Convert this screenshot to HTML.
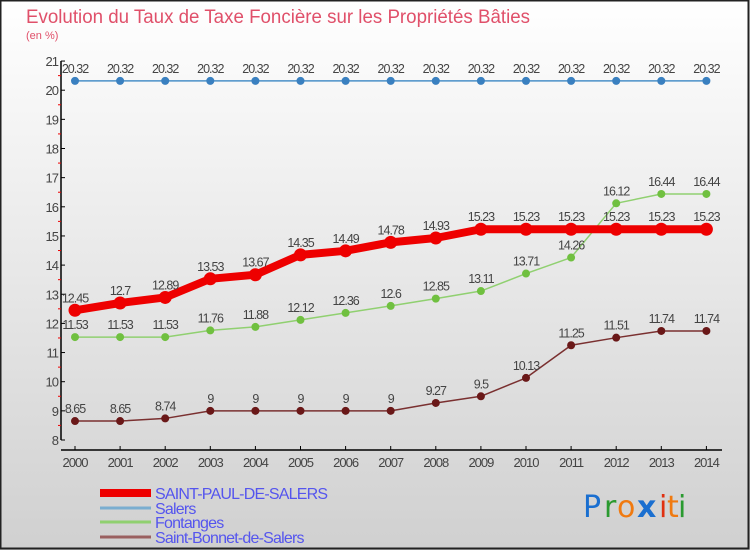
<!DOCTYPE html>
<html><head><meta charset="utf-8"><style>
body{margin:0;}
#wrap{position:relative;width:750px;height:550px;overflow:hidden;}
svg{display:block;font-family:"Liberation Sans","DejaVu Sans",sans-serif;}
</style></head><body>
<div id="wrap">
<svg id="c" width="750" height="550" xmlns="http://www.w3.org/2000/svg">
<defs><linearGradient id="bg" x1="0" y1="0" x2="0" y2="1"><stop offset="0" stop-color="#ffffff"/><stop offset="1" stop-color="#d0d0d0"/></linearGradient></defs>
<rect x="0" y="0" width="750" height="550" fill="url(#bg)"/>
<rect x="0.5" y="0.5" width="748" height="548" fill="none" stroke="#222" stroke-width="2"/>
<text x="26" y="23" font-size="19" fill="#e0506a" textLength="504" lengthAdjust="spacingAndGlyphs">Evolution du Taux de Taxe Foncière sur les Propriétés Bâties</text>
<text x="26" y="39" font-size="11" fill="#e0506a">(en %)</text>
<g id="axes"></g><g id="series"></g><g id="legend"></g>
<g font-size="30" font-family="'DejaVu Sans',sans-serif">
<text x="583" y="517" fill="#1a6fd0">P</text><text x="604" y="517" fill="#2a9a30">r</text><text x="617" y="517" fill="#f07a10">o</text><text x="637" y="517" fill="#1a6fd0" font-weight="bold">x</text><text x="659" y="517" fill="#e03010">i</text><text x="667" y="517" fill="#f07a10">t</text><text x="678" y="517" fill="#2a9a30">i</text>
</g>
</svg></div>
<script>
const years=[2000,2001,2002,2003,2004,2005,2006,2007,2008,2009,2010,2011,2012,2013,2014];
const yTicks=[8,9,10,11,12,13,14,15,16,17,18,19,20,21];
const stPaul=[12.45,12.7,12.89,13.53,13.67,14.35,14.49,14.78,14.93,15.23,15.23,15.23,15.23,15.23,15.23];
const salers=[20.32,20.32,20.32,20.32,20.32,20.32,20.32,20.32,20.32,20.32,20.32,20.32,20.32,20.32,20.32];
const fontanges=[11.53,11.53,11.53,11.76,11.88,12.12,12.36,12.6,12.85,13.11,13.71,14.26,16.12,16.44,16.44];
const bonnet=[8.65,8.65,8.74,9,9,9,9,9,9.27,9.5,10.13,11.25,11.51,11.74,11.74];
const names=["SAINT-PAUL-DE-SALERS","Salers","Fontanges","Saint-Bonnet-de-Salers"];
const NS="http://www.w3.org/2000/svg";
const X=i=>75+i*45.1;
const Y=v=>440-(v-8)*29.15;
function mk(tag,attrs,parent,txt){const e=document.createElementNS(NS,tag);for(const k in attrs)e.setAttribute(k,attrs[k]);if(txt!==undefined)e.textContent=txt;parent.appendChild(e);return e;}
const ax=document.getElementById('axes');
let e=mk('line',{x1:61,y1:Y(21),x2:61,y2:Y(8),stroke:'#000','stroke-width':1.5},ax);

e=mk('line',{x1:61,y1:450,x2:722,y2:450,stroke:'#000','stroke-width':1.5},ax);

yTicks.forEach((t,i)=>{
 mk('line',{x1:61,y1:Y(t),x2:65,y2:Y(t),stroke:'#000'},ax);
 if(i<yTicks.length-1)mk('line',{x1:58,y1:Y(t+0.5),x2:61,y2:Y(t+0.5),stroke:'#e00'},ax);
 e=mk('text',{x:58,y:Y(t)+5,'font-size':13,fill:'#444','text-anchor':'end','letter-spacing':'-1'},ax,String(t));
 
});
years.forEach((yr,i)=>{
 mk('line',{x1:X(i),y1:446,x2:X(i),y2:450,stroke:'#000'},ax);
 e=mk('text',{x:X(i),y:467,'font-size':13,fill:'#444','text-anchor':'middle','letter-spacing':'-1'},ax,String(yr));
 
});
const sg=document.getElementById('series');
function series(data,color,mcolor,w,r,name){
 const g=mk('g',{},sg);
 mk('polyline',{points:data.map((v,i)=>X(i)+','+Y(v)).join(' '),fill:'none',stroke:color,'stroke-width':w,'stroke-linejoin':'round'},g);
 data.forEach((v,i)=>{
  const c=mk('circle',{cx:X(i),cy:Y(v),r:r,fill:mcolor},g);
  
  const t=mk('text',{x:X(i),y:Y(v)-8,'font-size':12.5,fill:'#444','text-anchor':'middle','letter-spacing':'-1'},g,String(v));
  
 });
}
series(salers,'#4a90c8','#3a80c0',1.5,4,'salers-series');
series(fontanges,'#90d070','#70c040',1.5,4,'fontanges-series');
series(bonnet,'#7a3030','#6a1818',1.5,4,'saint-bonnet-series');
series(stPaul,'#ee0000','#ee0000',8,6.5,'saint-paul-series');
const lg=document.getElementById('legend');
const lc=['#ee0000','#7aaed0','#90d070','#9a6060'],lw=[8,3,3,3],ly=[493,508,522,537];
names.forEach((n,i)=>{
 const g=mk('g',{},lg);
 mk('line',{x1:100,y1:ly[i],x2:151,y2:ly[i],stroke:lc[i],'stroke-width':lw[i]},g);
 mk('text',{x:155,y:ly[i]+6,'font-size':16,fill:'#5555ee','letter-spacing':'-0.8'},g,n);
});
</script>
</body></html>
